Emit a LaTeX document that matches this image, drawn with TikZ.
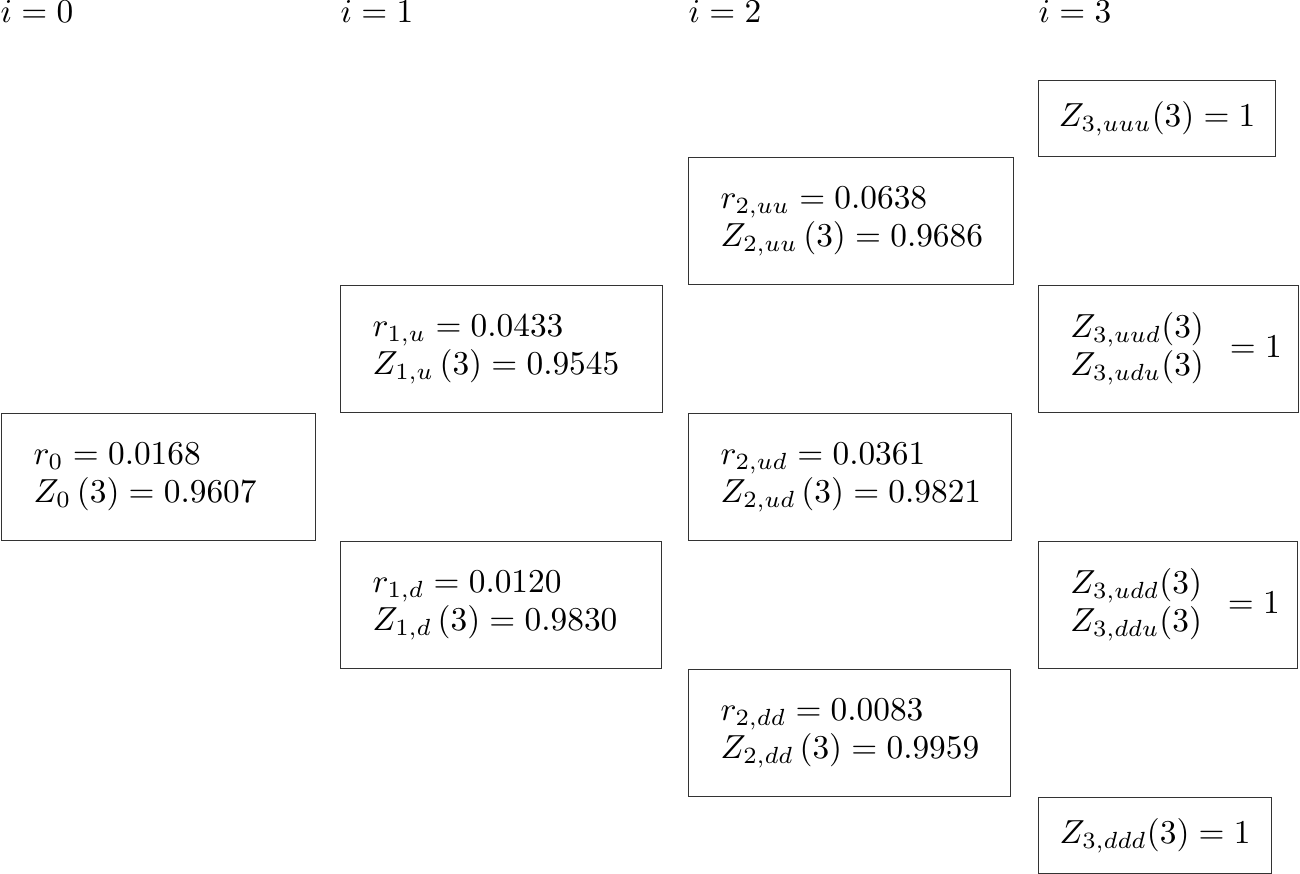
\documentclass[tikz,border=0pt]{standalone}
\begin{document}
\begin{tikzpicture}[x=0.3pt,y=-0.3pt,
  box/.style={draw=black!80, line width=0.4pt, anchor=north west, align=left,
    inner xsep=9.6pt, inner ysep=0pt, minimum height=38.1pt,
    font=\fontsize{10}{11.4}\selectfont},
  onebox/.style={draw=black!80, line width=0.4pt, anchor=north west,
    inner xsep=2pt, inner ysep=0pt, minimum height=22.8pt},
  head/.style={anchor=base west, inner sep=0pt}]
\useasboundingbox (0,0) rectangle (1300,874);
% headers
\node[head] (h0) at (0,23) {$i=0$};
\node[head] (h1) at (340,23) {$i=1$};
\node[head] (h2) at (688,23) {$i=2$};
\node[head] (h3) at (1038,23) {$i=3$};
% i = 0
\node[box, text width=75pt] (b0) at (1,413)
  {\mbox{$r_{0}=0.0168$}\\ \mbox{$Z_{0}\left(3\right)=0.9607$}};
% i = 1
\node[box, text width=77.4pt] (b1u) at (340,285)
  {\mbox{$r_{1,u}=0.0433$}\\ \mbox{$Z_{1,u}\left(3\right)=0.9545$}};
\node[box, text width=77.1pt] (b1d) at (340,541)
  {\mbox{$r_{1,d}=0.0120$}\\ \mbox{$Z_{1,d}\left(3\right)=0.9830$}};
% i = 2
\node[box, text width=78.3pt] (b2uu) at (688,157)
  {\mbox{$r_{2,uu}=0.0638$}\\ \mbox{$Z_{2,uu}\left(3\right)=0.9686$}};
\node[box, text width=77.7pt] (b2ud) at (688,413)
  {\mbox{$r_{2,ud}=0.0361$}\\ \mbox{$Z_{2,ud}\left(3\right)=0.9821$}};
\node[box, text width=77.4pt] (b2dd) at (688,669)
  {\mbox{$r_{2,dd}=0.0083$}\\ \mbox{$Z_{2,dd}\left(3\right)=0.9959$}};
% i = 3
\node[onebox, minimum width=71.1pt] (b3uuu) at (1038,80)
  {$Z_{3,uuu}(3)=1$};
\node[box, inner xsep=4.5pt, text width=69pt] (b3uud) at (1038,285)
  {\mbox{$\begin{array}{l}Z_{3,uud}(3)\\ Z_{3,udu}(3)\end{array}=1$}};
\node[box, inner xsep=4.5pt, text width=68.7pt] (b3udd) at (1038,541)
  {\mbox{$\begin{array}{l}Z_{3,udd}(3)\\ Z_{3,ddu}(3)\end{array}=1$}};
\node[onebox, minimum width=69.9pt] (b3ddd) at (1038,797)
  {$Z_{3,ddd}(3)=1$};
\end{tikzpicture}
\end{document}
